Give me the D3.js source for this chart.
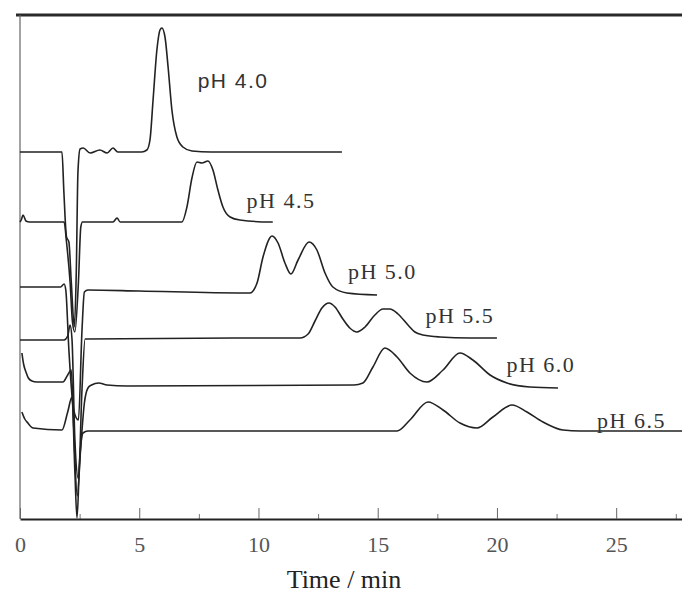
<!DOCTYPE html>
<html>
<head>
<meta charset="utf-8">
<script src="https://cdn.jsdelivr.net/npm/d3@7"></script>
<style>
  body { margin: 0; background: #fff; }
  svg { display: block; }
  .serif { font-family: "Liberation Serif", "Times New Roman", Times, serif; }
  .sans { font-family: "Liberation Sans", Arial, Helvetica, sans-serif; }
</style>
</head>
<body>
<svg id="chart"></svg>
<script>
// pH of each run, top to bottom
var phLabels = ["pH 4.0", "pH 4.5", "pH 5.0", "pH 5.5", "pH 6.0", "pH 6.5"];
// vertical offset of each trace baseline (a.u.)
var offsets = [367, 297, 229, 180, 133, 88];
// label anchor: [time, response]
var labelPos = [[7.45, 431], [9.5, 311], [13.75, 240], [17.0, 196], [20.4, 147], [24.2, 91]];

// traces: [time (min), response above baseline (a.u.)]
var trace40 = [[0,0],[1.76,0],[1.84,-40],[1.95,-85],[2.05,-90],[2.15,-130],[2.28,-175],[2.36,-120],
  [2.43,-20],[2.52,3],[2.65,4],[2.94,-1],[3.35,2],[3.65,-1],[3.9,4],[4.1,0],[5.1,0],
  [5.32,2],[5.45,12],[5.58,52],[5.74,102],[5.87,122],[5.95,124],[6.08,115],[6.21,85],
  [6.37,42],[6.58,15],[6.83,5],[7.21,1],[8,0],[13.5,0]];
var trace45 = [[0,0],[0.05,2],[0.13,7],[0.25,1],[0.4,0],[1.85,0],[1.95,-20],[2.1,-60],[2.2,-100],
  [2.3,-110],[2.45,-60],[2.55,-5],[2.62,0],[3.9,0],[4.07,4],[4.2,0],[6.6,0],
  [6.79,0],[7.0,15],[7.21,44],[7.42,60],[7.63,59],[7.88,61],[8.09,52],[8.3,32],[8.51,15],
  [8.81,5],[9.22,2],[10.48,0],[10.6,0]];
var trace50 = [[0,3],[1.7,3],[1.85,6],[1.92,0],[2.05,-60],[2.25,-120],[2.45,-130],[2.6,-40],
  [2.7,-2],[2.85,0],[5,-1],[9.4,-3],[9.64,-3],[9.94,7],[10.19,33],[10.57,54],[10.82,47],
  [11.11,27],[11.36,16],[11.66,30],[12.12,48],[12.45,40],[12.79,17],[13.12,3],[13.71,-3],
  [14.97,-5]];
var trace55 = [[0,-1],[1.85,-1],[2.0,3],[2.1,14],[2.18,0],[2.3,-100],[2.45,-140],[2.6,-50],
  [2.73,0],[9,1],[11.74,1],[12.08,5],[12.37,18],[12.66,31],[12.96,36],[13.21,32],[13.54,20],
  [13.83,11],[14.13,7],[14.47,12],[14.88,24],[15.22,30],[15.51,30],[15.85,25],[16.27,14],
  [16.56,7],[16.9,4],[17.61,2],[18.87,1],[20.0,1]];
var trace60 = [[0.08,33],[0.15,22],[0.25,14],[0.35,8],[0.5,5],[0.7,4],[1.8,4],[2.0,11],[2.15,16],
  [2.25,-40],[2.4,-110],[2.55,-60],[2.7,-17],[2.85,-2],[3.0,1],[3.3,3],[3.65,1],[4.5,0],
  [14.0,1],[14.38,3],[14.8,19],[15.3,38],[15.81,29],[16.35,13],[17.06,4],[17.74,16],
  [18.45,33],[18.99,26],[19.71,11],[20.42,3],[21.38,-1],[22.56,-2]];
var trace65 = [[0.08,19],[0.2,12],[0.33,8],[0.55,3],[1.76,1],[2.0,19],[2.18,34],[2.3,-40],
  [2.39,-87],[2.5,-30],[2.64,-2],[2.85,0],[15.81,0],[16.35,11],[17.11,29],[17.74,21],
  [18.45,8],[19.16,3],[19.83,14],[20.63,26],[21.26,19],[21.93,9],[22.77,1],[23.5,0],[27.76,0]];
var traces = [trace40, trace45, trace50, trace55, trace60, trace65];

var majorTicks = [0, 5, 10, 15, 20, 25];
var minorTicks = [2.5, 7.5, 12.5, 17.5, 22.5, 27.5];

var width = 682, height = 596;
var svg = d3.select("#chart").attr("width", width).attr("height", height);

var x = d3.scaleLinear().domain([0, 27.76]).range([20, 682]);
var y = d3.scaleLinear().domain([0, 505]).range([519, 14]);

// frame: top rule and left line
svg.append("line")
  .attr("x1", 16).attr("x2", 682).attr("y1", y(504)).attr("y2", y(504))
  .attr("stroke", "#2a2a2a").attr("stroke-width", 3);
svg.append("line")
  .attr("x1", x(0)).attr("x2", x(0)).attr("y1", y(504)).attr("y2", y(0))
  .attr("stroke", "#666").attr("stroke-width", 1.2);

// minor ticks
svg.append("g")
  .attr("transform", "translate(0," + y(0) + ")")
  .call(d3.axisBottom(x).tickValues(minorTicks).tickSizeInner(-5).tickSizeOuter(0).tickFormat(""))
  .call(function (g) { g.select(".domain").remove(); })
  .selectAll("line").attr("stroke", "#777");

// major ticks + labels
var xAxis = svg.append("g")
  .attr("transform", "translate(0," + y(0) + ")")
  .call(d3.axisBottom(x).tickValues(majorTicks).tickSizeInner(-11).tickSizeOuter(0).tickPadding(17))
  .attr("font-family", null)
  .attr("font-size", null);
xAxis.select(".domain").attr("stroke", "#222").attr("stroke-width", 2);
xAxis.selectAll(".tick line").attr("stroke", "#666");
xAxis.selectAll(".tick text")
  .attr("class", "serif")
  .attr("fill", "#555")
  .style("font-size", "22px");

svg.append("text")
  .attr("class", "serif")
  .attr("x", 344).attr("y", 588)
  .attr("text-anchor", "middle")
  .attr("fill", "#222")
  .style("font-size", "26px")
  .text("Time / min");

// traces
var line = d3.line()
  .x(function (d) { return x(d[0]); })
  .y(function (d) { return y(d[1]); })
  .curve(d3.curveMonotoneX);

svg.selectAll(".trace")
  .data(traces)
  .enter()
  .append("path")
  .attr("class", "trace")
  .attr("d", function (d, i) {
    return line(d.map(function (p) { return [p[0], p[1] + offsets[i]]; }));
  })
  .attr("fill", "none")
  .attr("stroke", "#222")
  .attr("stroke-width", 1.6)
  .attr("stroke-linejoin", "round");

// pH labels
svg.selectAll(".phlabel")
  .data(phLabels)
  .enter()
  .append("text")
  .attr("class", function (d, i) { return i == 0 ? "phlabel sans" : "phlabel serif"; })
  .attr("x", function (d, i) { return x(labelPos[i][0]); })
  .attr("y", function (d, i) { return y(labelPos[i][1]); })
  .attr("fill", "#333")
  .style("font-size", function (d, i) { return i == 0 ? "21px" : "22px"; })
  .style("letter-spacing", function (d, i) { return i == 0 ? "1.5px" : "1.5px"; })
  .text(function (d) { return d; });
</script>
</body>
</html>
